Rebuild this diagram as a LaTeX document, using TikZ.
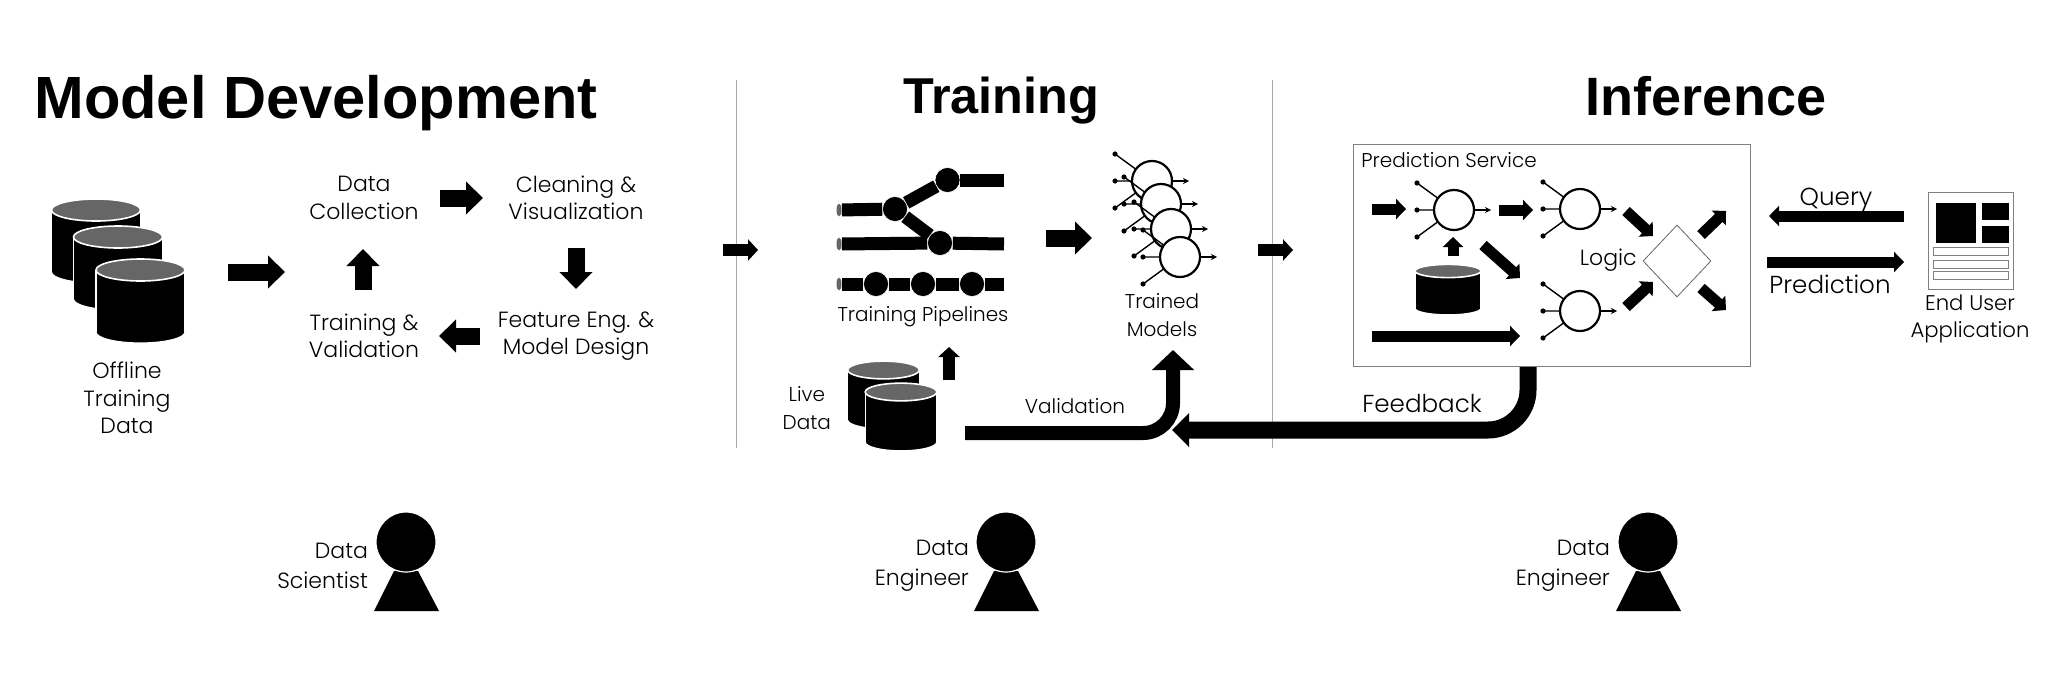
\documentclass[tikz,border=0pt]{standalone}
\usepackage{fontspec}
\setmainfont{Poppins}[UprightFont=* Light]
\newfontfamily\titlefont{Liberation Sans}
\usepackage{xcolor}
\usetikzlibrary{arrows.meta,shapes.geometric}

\definecolor{dbtop}{HTML}{666666}
\definecolor{rulegray}{HTML}{A8A8A8}
\definecolor{framegray}{HTML}{808080}

\tikzset{
  dbase/.pic={
    \path[fill=black, draw=white, line width=0.6pt] (0,62) ellipse [x radius=44.5, y radius=11];
    \fill[black] (-44.5,0) rectangle (44.5,62);
    \draw[white, line width=0.6pt] (-44.5,0) -- (-44.5,62) (44.5,0) -- (44.5,62);
    \path[fill=dbtop, draw=white, line width=0.8pt] (0,0) ellipse [x radius=44.5, y radius=11];
  },
  neuron/.pic={
    \fill[black] (-37,-27) circle [radius=2.6] (-37,0) circle [radius=2.6] (-37,27) circle [radius=2.6];
    \draw[line width=0.7pt] (-37,-27) -- (0,0) (-37,0) -- (0,0) (-37,27) -- (0,0);
    \draw[line width=0.6pt, -{Stealth[length=3pt,width=3pt]}] (0,0) -- (37,0);
    \path[fill=white, draw=black, line width=1.1pt] (0,0) circle [radius=20];
  },
  person/.pic={
    \fill[black] (-12,29) -- (12,29) -- (33,69) -- (-32,69) -- cycle;
    \path[fill=black, draw=white, line width=0.6pt] (0,0) circle [radius=30];
  }
}

\begin{document}
\begin{tikzpicture}[
  x=0.5pt,
  y=-0.5pt,
  heading/.style={font=\titlefont\fontsize{#1}{35}\selectfont\bfseries, anchor=base},
  label/.style={font=\fontsize{10}{13.75}\selectfont, align=center},
  looplabel/.style={font=\fontsize{11}{13.75}\selectfont, align=center},
  bigtext/.style={font=\fontsize{12.3}{13.75}\selectfont, align=center},
  rolelabel/.style={font=\fontsize{11}{15}\selectfont, align=right, anchor=east},
  bigarrow/.style={line width=8.5pt, -{Triangle[length=8.5pt,width=16pt]}},
  smallarrow/.style={line width=6pt, -{Triangle[length=5pt,width=10.5pt]}},
  thinarrow/.style={line width=5.5pt, -{Triangle[length=5pt,width=10pt]}},
  hugearrow/.style={line width=7pt, -{Triangle[length=10pt,width=20.5pt]}, rounded corners=15pt},
  feedarrow/.style={line width=8.5pt, -{Triangle[length=8.5pt,width=16.5pt]}, rounded corners=20pt},
  separator/.style={draw=rulegray, line width=0.5pt},
  stepdot/.style={circle, fill=black, draw=white, line width=0.3pt, minimum size=12.5pt, inner sep=0pt},
  pipeend/.style={ellipse, fill=dbtop, minimum width=2.5pt, minimum height=6.5pt, inner sep=0pt},
  pipe/.style={line width=6.5pt},
  icon/.style={draw=framegray, fill=white, line width=0.5pt}
]
  \useasboundingbox (0,0) rectangle (2048,685);

  \node[heading=29.8] (develop) at (316,118) {Model Development};
  \node[heading=25.2] (training) at (1001,113) {Training};
  \node[heading=27] (inference) at (1706,115) {Inference};

  \coordinate (sep1top) at (736,80);
  \coordinate (sep1bot) at (736,448);
  \coordinate (sep2top) at (1272,80);
  \coordinate (sep2bot) at (1272,448);
  \draw[separator] (sep1top) -- (sep1bot);
  \draw[separator] (sep2top) -- (sep2bot);

  \pic at (96,210) {dbase};
  \pic at (118,237) {dbase};
  \pic at (140.5,270) {dbase};
  \node[looplabel] (offline) at (127,398) {Offline\\Training\\Data};

  \node[looplabel] (collect) at (364,198) {Data\\Collection};
  \node[looplabel] (clean) at (576,198) {Cleaning \&\\Visualization};
  \node[looplabel] (feature) at (576,336) {Feature Eng. \&\\Model Design};
  \node[looplabel] (validate) at (364,336) {Training \&\\Validation};

  \coordinate (datout) at (228,272);
  \coordinate (loopin) at (285,272);
  \coordinate (collectout) at (440,198);
  \coordinate (cleanin) at (483,198);
  \coordinate (cleanout) at (576,248);
  \coordinate (featurein) at (576,289);
  \coordinate (featureout) at (480,336);
  \coordinate (validatein) at (439,336);
  \coordinate (validateout) at (363,290);
  \coordinate (collectin) at (363,249);
  \draw[bigarrow] (datout) -- (loopin);
  \draw[bigarrow] (collectout) -- (cleanin);
  \draw[bigarrow] (cleanout) -- (featurein);
  \draw[bigarrow] (featureout) -- (validatein);
  \draw[bigarrow] (validateout) -- (collectin);

  \coordinate (stage1out) at (723,250);
  \coordinate (stage1in) at (758,250);
  \coordinate (stage2out) at (1258,250);
  \coordinate (stage2in) at (1293,250);
  \draw[smallarrow] (stage1out) -- (stage1in);
  \draw[smallarrow] (stage2out) -- (stage2in);

  \node[stepdot] (split) at (895,209) {};
  \node[stepdot] (upper) at (947.5,180) {};
  \node[stepdot] (lower) at (940,243) {};
  \node[stepdot] (rowa) at (876,284) {};
  \node[stepdot] (rowb) at (923,284) {};
  \node[stepdot] (rowc) at (972,284) {};
  \node[pipeend] (enda) at (839,210) {};
  \node[pipeend] (endb) at (839,244) {};
  \node[pipeend] (endc) at (839,284) {};
  \coordinate (exita) at (1004,180);
  \coordinate (exitb) at (1004,244);
  \coordinate (exitc) at (1004,284);
  \draw[pipe] (enda) -- (split);
  \draw[pipe] (split) -- (upper);
  \draw[pipe] (split) -- (lower);
  \draw[pipe] (upper) -- (exita);
  \draw[pipe] (endb) -- (lower);
  \draw[pipe] (lower) -- (exitb);
  \draw[pipe] (endc) -- (rowa);
  \draw[pipe] (rowa) -- (rowb);
  \draw[pipe] (rowb) -- (rowc);
  \draw[pipe] (rowc) -- (exitc);
  \node[label] (pipelines) at (923,317) {Training Pipelines};

  \coordinate (pipesout) at (1046,238);
  \coordinate (modelsin) at (1092,238);
  \draw[bigarrow] (pipesout) -- (modelsin);

  \pic at (1152,181) {neuron};
  \pic at (1161,204) {neuron};
  \pic at (1171,229) {neuron};
  \pic at (1180,257) {neuron};
  \node[label] (models) at (1162,315) {Trained\\Models};

  \pic[scale=0.805] at (883.5,370) {dbase};
  \pic[scale=0.805] at (901,392) {dbase};
  \node[label, anchor=east] (live) at (838,408) {Live\\Data};
  \coordinate (liveout) at (949,380);
  \coordinate (pipesin) at (949,347);
  \draw[smallarrow] (liveout) -- (pipesin);

  \coordinate (valstart) at (965,433);
  \coordinate (valtip) at (1173,350);
  \draw[hugearrow] (valstart) -| (valtip);
  \node[label] (validation) at (1075,406) {Validation};

  \node[icon, minimum width=198.5pt, minimum height=111pt, inner sep=0pt] (service) at (1551.5,255) {};
  \node[label, anchor=west, inner sep=0pt] (servicename) at (1361,160) {Prediction Service};

  \pic at (1454,210) {neuron};
  \pic at (1580,209) {neuron};
  \pic at (1580,311) {neuron};
  \pic[xscale=0.74, yscale=0.6] at (1448,271) {dbase};

  \coordinate (reqin) at (1372,209);
  \coordinate (firstin) at (1406,209);
  \coordinate (firstout) at (1499,210);
  \coordinate (secondin) at (1533,210);
  \coordinate (secondout) at (1626,211);
  \coordinate (logicin) at (1653,236);
  \coordinate (thirdout) at (1626,307);
  \coordinate (logicinb) at (1653,282);
  \coordinate (logicout) at (1701,235);
  \coordinate (upperend) at (1726,211);
  \coordinate (logicoutb) at (1701,288);
  \coordinate (lowerend) at (1726,310);
  \coordinate (firstdown) at (1483,245);
  \coordinate (thirdin) at (1520,278);
  \coordinate (cacheout) at (1453,256);
  \coordinate (cachein) at (1453,237);
  \coordinate (reqlong) at (1372,336);
  \coordinate (thirdlong) at (1520,336);
  \draw[thinarrow] (reqin) -- (firstin);
  \draw[thinarrow] (firstout) -- (secondin);
  \draw[thinarrow] (secondout) -- (logicin);
  \draw[thinarrow] (thirdout) -- (logicinb);
  \draw[thinarrow] (logicout) -- (upperend);
  \draw[thinarrow] (logicoutb) -- (lowerend);
  \draw[thinarrow] (firstdown) -- (thirdin);
  \draw[thinarrow] (cacheout) -- (cachein);
  \draw[thinarrow] (reqlong) -- (thirdlong);

  \node[diamond, draw=black!60, fill=white, line width=0.4pt, minimum width=34pt, minimum height=36pt, inner sep=0pt] (logic) at (1677,261) {};
  \node[looplabel, anchor=east, inner sep=0pt] (logicname) at (1637,260) {Logic};

  \coordinate (fbstart) at (1528,367);
  \coordinate (fbtip) at (1172,430);
  \draw[feedarrow] (fbstart) |- (fbtip);
  \node[bigtext] (feedback) at (1422,403) {Feedback};

  \coordinate (queryout) at (1904,216);
  \coordinate (queryin) at (1769,216);
  \coordinate (predout) at (1767,262);
  \coordinate (predin) at (1904,262);
  \draw[thinarrow] (queryout) -- (queryin);
  \draw[thinarrow] (predout) -- (predin);
  \node[bigtext] (query) at (1836,200) {Query};
  \node[bigtext] (prediction) at (1830,284) {Prediction};

  \node[icon, minimum width=42.5pt, minimum height=48.5pt, inner sep=0pt] (screen) at (1971,240.5) {};
  \node[fill=black, minimum width=20pt, minimum height=20pt, inner sep=0pt] (panela) at (1956,223) {};
  \node[fill=black, minimum width=13.5pt, minimum height=8.5pt, inner sep=0pt] (panelb) at (1995,211.5) {};
  \node[fill=black, minimum width=13.5pt, minimum height=8.5pt, inner sep=0pt] (panelc) at (1995,234.5) {};
  \foreach \row/\ypos in {bara/251, barb/264, barc/275.5}
    \node[icon, minimum width=37.5pt, minimum height=4pt, inner sep=0pt] (\row) at (1971,\ypos) {};
  \node[font=\fontsize{10.6}{13.75}\selectfont, align=center] (enduser) at (1970,319) {End User\\Application};

  \pic at (406,542) {person};
  \pic at (1006,542) {person};
  \pic at (1648,542) {person};
  \node[rolelabel] (scientist) at (375,566) {Data\\Scientist};
  \node[rolelabel] (trainer) at (976,566) {Data\\Engineer};
  \node[rolelabel] (server) at (1617,566) {Data\\Engineer};
\end{tikzpicture}
\end{document}
